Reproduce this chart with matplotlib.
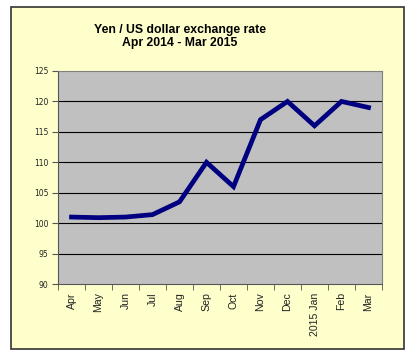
import matplotlib.pyplot as plt
from matplotlib.patches import Rectangle

# Monthly average yen per US dollar, Apr 2014 - Mar 2015
months = ["Apr", "May", "Jun", "Jul", "Aug", "Sep", "Oct", "Nov", "Dec",
          "2015 Jan", "Feb", "Mar"]
yen_per_usd = [101.0, 100.9, 101.0, 101.4, 103.5, 110.0, 106.0, 117.0,
               120.0, 116.0, 120.0, 119.0]
y_ticks = [90, 95, 100, 105, 110, 115, 120, 125]

W, H = 417, 363
fig = plt.figure(figsize=(W / 100, H / 100), dpi=100)
fig.patch.set_facecolor("white")

# chart area box (pale yellow with dark border)
fig.patches.append(Rectangle((11 / W, 1 - 349 / H), (404 - 11) / W, (349 - 7) / H,
                             transform=fig.transFigure, facecolor="#FFFFCC",
                             edgecolor="#333333", linewidth=1.2, zorder=-5))

ax = fig.add_axes([58 / W, 1 - 284 / H, (382 - 58) / W, (284 - 71) / H])
ax.set_facecolor("#C0C0C0")

x = list(range(len(months)))
ax.plot(x, yen_per_usd, color="#000080", linewidth=3.4, solid_joinstyle="miter",
        zorder=3)

ax.set_xlim(-0.5, len(months) - 0.5)
ax.set_ylim(90, 125)
ax.set_yticks(y_ticks)
ax.set_yticklabels([str(v) for v in y_ticks], fontsize=5.5, family="DejaVu Sans",
                   color="#222222")
for v in y_ticks[1:-1]:
    ax.axhline(v, color="black", linewidth=0.8, zorder=1)

ax.set_xticks(x)
ax.set_xticklabels(months, rotation=90, fontsize=7.6, family="Liberation Sans",
                   color="#222222")
ax.tick_params(axis="x", length=0, pad=6)
ax.set_xticks([i - 0.5 for i in range(len(months) + 1)], minor=True)
ax.tick_params(axis="x", which="minor", length=4, direction="out", color="#555555")
ax.tick_params(axis="y", length=4, direction="out", color="#555555", pad=3)

for s in ["top", "right"]:
    ax.spines[s].set_color("#808080")
    ax.spines[s].set_linewidth(0.8)
for s in ["left", "bottom"]:
    ax.spines[s].set_color("#555555")
    ax.spines[s].set_linewidth(0.8)

fig.text(180 / W, 1 - 30 / H, "Yen / US dollar exchange rate", ha="center",
         va="center", fontsize=8.8, fontweight="bold", family="Liberation Sans")
fig.text(180 / W, 1 - 43 / H, "Apr 2014 - Mar 2015", ha="center",
         va="center", fontsize=8.8, fontweight="bold", family="Liberation Sans")

fig.savefig("out.png", dpi=100)
